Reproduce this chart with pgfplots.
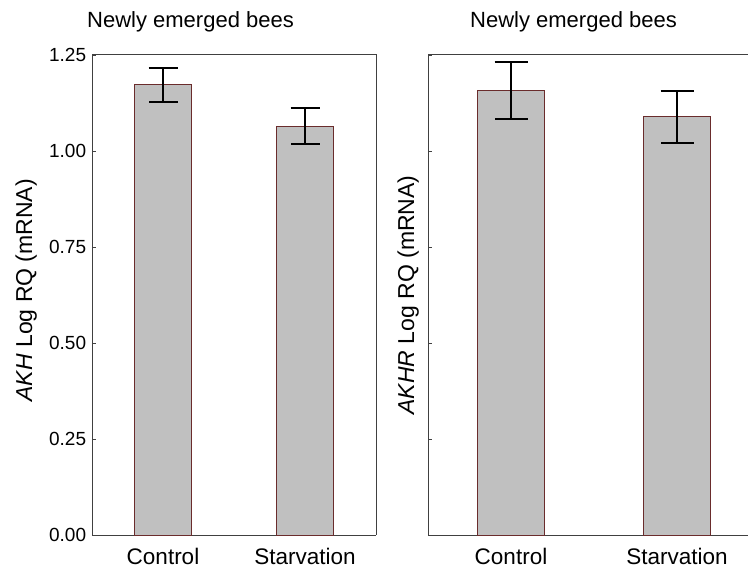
\documentclass[border=0pt]{standalone}
\usepackage{pgfplots}
\pgfplotsset{compat=1.18}
\usepackage{fontspec}
\setmainfont{Liberation Sans}
\definecolor{barfill}{HTML}{C0C0C0}
\definecolor{baredge}{HTML}{6A2C2C}
\definecolor{axcol}{HTML}{404040}
\pgfplotsset{
  panel/.style={
    scale only axis, height=480bp,
    ymin=0, ymax=1.25, xmin=-0.5, xmax=1.5,
    xtick={0,1}, xticklabels={Control,Starvation},
    ytick={0,0.25,0.5,0.75,1,1.25},
    axis x line*=bottom, axis y line*=left,
    axis line style={axcol, line width=1bp, -},
    tick align=inside, major tick length=4bp,
    every tick/.style={axcol, line width=0.8bp},
    x tick label style={font=\fontsize{22.5bp}{27bp}\selectfont, yshift=-10bp},
    y tick label style={font=\fontsize{19bp}{23bp}\selectfont, xshift=-2.4bp,
      /pgf/number format/fixed, /pgf/number format/fixed zerofill,
      /pgf/number format/precision=2, /pgf/number format/assume math mode=true},
    title style={anchor=base west, inner sep=0pt, font=\fontsize{22bp}{26bp}\selectfont},
    ylabel style={anchor=center, font=\fontsize{23bp}{27bp}\selectfont},
    clip=false,
  },
  barstyle/.style={ybar, bar width=0.4, fill=barfill, draw=baredge, line width=1bp,
    error bars/.cd, y dir=both, y explicit,
    error bar style={black, line width=1.6bp},
    error mark options={black, rotate=90, line width=1.6bp, mark size=#1}},
}
\begin{document}
\begin{tikzpicture}
\path[use as bounding box, clip] (0,0) rectangle (748bp,575bp);
\begin{axis}[panel, width=284bp, at={(92bp,40bp)}, anchor=south west,
  title={Newly emerged bees}, title style={at={(rel axis cs:-0.0176,1.045)}},
  ylabel={\textit{AKH} Log RQ (mRNA)}, ylabel style={at={(rel axis cs:-0.232,0.51)}}]
\draw[axcol, line width=1bp] (rel axis cs:0,1) -- (rel axis cs:1,1) -- (rel axis cs:1,0);
\addplot[barstyle=14.5bp] coordinates {(0,1.172) +- (0,0.044) (1,1.065) +- (0,0.047)};
\end{axis}
\begin{axis}[panel, width=332bp, at={(428bp,40bp)}, anchor=south west,
  yticklabels={},
  title={Newly emerged bees}, title style={at={(rel axis cs:0.1265,1.045)}},
  ylabel={\textit{AKHR} Log RQ (mRNA)}, ylabel style={at={(rel axis cs:-0.060,0.50)}}]
\draw[axcol, line width=1bp] (rel axis cs:0,1) -- (rel axis cs:1,1) -- (rel axis cs:1,0);
\addplot[barstyle=16.5bp] coordinates {(0,1.157) +- (0,0.074) (1,1.089) +- (0,0.068)};
\end{axis}
\end{tikzpicture}
\end{document}
